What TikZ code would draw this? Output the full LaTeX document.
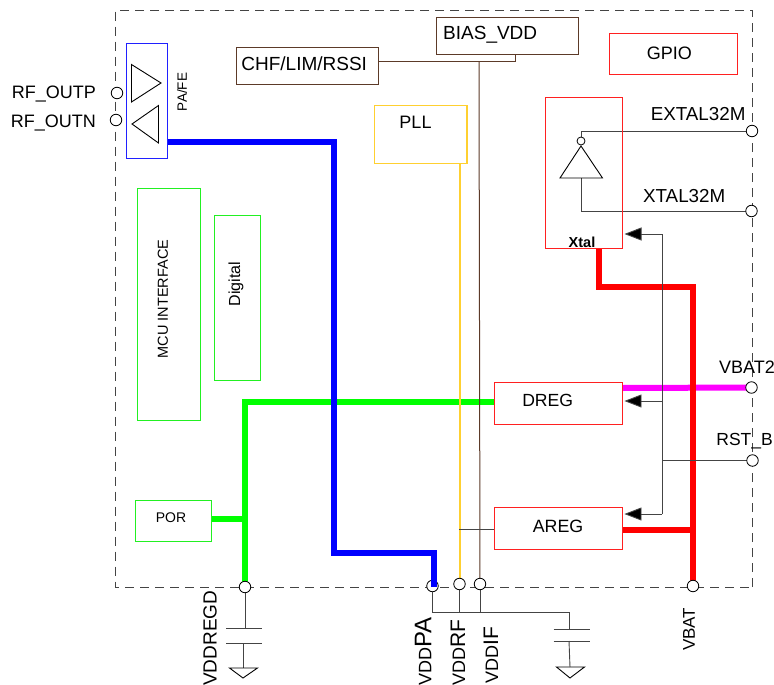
\documentclass[tikz,border=0pt]{standalone}
\usepackage{fontspec}
\setmainfont{Liberation Sans}
\usetikzlibrary{arrows.meta,calc}
\pgfdeclarelayer{wires}
\pgfsetlayers{wires,main}
\definecolor{cbrown}{HTML}{5C3A28}
\definecolor{cyellow}{HTML}{FFD030}
\definecolor{cgreen}{HTML}{22F022}
\definecolor{cred}{HTML}{FF2020}
\definecolor{cblue}{HTML}{2020FF}
\definecolor{cgrey}{HTML}{444444}
\definecolor{fgreen}{HTML}{00FF00}
\definecolor{fblue}{HTML}{0000FF}
\definecolor{fred}{HTML}{FF0000}
\definecolor{fmag}{HTML}{FF00FF}
\newcommand{\fs}[1]{\fontsize{#1}{#1}\selectfont}
\tikzset{
  x=1pt,y=-1pt,
  block/.style={draw,line width=1pt,inner sep=0pt,outer sep=0pt,font=\fs{18}},
  redbox/.style={block,draw=cred},
  greenbox/.style={block,draw=cgreen},
  brownbox/.style={block,draw=cbrown},
  yellowbox/.style={block,draw=cyellow,line width=1.5pt},
  bluebox/.style={block,draw=cblue},
  pin/.style={circle,draw=black,fill=white,line width=.8pt,minimum size=11.5pt,inner sep=0pt,outer sep=0pt},
  txt/.style={inner sep=0pt,font=\fs{18}},
  vtxt/.style={inner sep=0pt,font=\fs{18},rotate=90},
  thick wire/.style={line width=6pt},
  thin wire/.style={line width=.9pt,draw=cgrey},
  arrowwire/.style={thin wire,-{Triangle[length=17pt,width=13pt,fill=black]},shorten >=2pt},
  comp/.style={line width=.9pt,draw=black,line join=miter},
  chipedge/.style={line width=.9pt,draw=cgrey,dash pattern=on 9pt off 6pt},
}
\begin{document}
\begin{tikzpicture}
\useasboundingbox (0,0) rectangle (774,685);
% chip outline
\begin{pgfonlayer}{wires}
\draw[chipedge] (752,587) -- (752,10) -- (115.7,10) -- (115.7,587) -- cycle;
\end{pgfonlayer}
% blocks
\node[bluebox,minimum width=41.5pt,minimum height=114pt] (pafe) at (147.2,101) {};
\node[brownbox,minimum width=142pt,minimum height=37.5pt] (chf) at (307.5,66.2) {};
\node[brownbox,minimum width=141.5pt,minimum height=37pt] (bias) at (507.7,36.5) {};
\node[redbox,minimum width=127.5pt,minimum height=41.5pt] (gpio) at (673.7,54.2) {};
\node[yellowbox,minimum width=92.5pt,minimum height=58pt] (pll) at (420.7,134.5) {};
\node[redbox,minimum width=77pt,minimum height=151.5pt] (xtal) at (584,173.2) {};
\node[greenbox,minimum width=63.5pt,minimum height=232.5pt] (mcu) at (169.2,304.7) {};
\node[greenbox,minimum width=46.5pt,minimum height=165.5pt] (digital) at (237.7,298.2) {};
\node[greenbox,minimum width=76pt,minimum height=41pt] (por) at (173,521) {};
\node[redbox,minimum width=127.5pt,minimum height=42pt] (dreg) at (558.7,403) {};
\node[redbox,minimum width=127.5pt,minimum height=42pt] (areg) at (558.7,528) {};
% texts inside or beside blocks
\node[txt,font=\fs{19}] (chftxt) at (304.2,63.5) {CHF/LIM/RSSI};
\node[txt,anchor=west,font=\fs{19}] (biastxt) at (443,34.5) {BIAS\_VDD};
\node[txt] (gpiotxt) at (669.3,53) {GPIO};
\node[txt] (plltxt) at (415.5,122.5) {PLL};
\node[txt,font=\fs{14}] (portxt) at (171,518) {POR};
\node[txt,font=\fs{17.6}] (dregtxt) at (547.7,400.5) {DREG};
\node[txt,font=\fs{17.8}] (aregtxt) at (558,526.5) {AREG};
\node[vtxt,font=\fs{13.5}] (pafetxt) at (182,92) {PA/FE};
\node[vtxt,font=\fs{14.5}] (mcutxt) at (163,299) {MCU INTERFACE};
\node[vtxt,font=\fs{16}] (digtxt) at (236,284) {Digital};
\node[txt,font=\bfseries\fs{14.5}] (xtaltxt) at (582,242) {Xtal};
% pins
\node[pin] (poutp) at (117,93) {};
\node[pin] (poutn) at (116,120) {};
\node[pin] (pextal) at (752,131) {};
\node[pin] (pxtal) at (751.5,211) {};
\node[pin] (pvbat2) at (751.5,387.5) {};
\node[pin] (prst) at (752.5,460.5) {};
\node[pin] (pregd) at (245,587) {};
\node[pin] (prf) at (459.5,584) {};
\node[pin] (pif) at (480,584) {};
\node[pin] (pbat) at (693,586) {};
% pin labels
\node[txt,anchor=east] (loutp) at (96,94) {RF\_OUTP};
\node[txt,anchor=east] (loutn) at (96,123.5) {RF\_OUTN};
\node[txt,anchor=east,font=\fs{18.8}] (lextal) at (745.7,114.5) {EXTAL32M};
\node[txt,anchor=east,font=\fs{18.8}] (lxtal) at (725.5,196.5) {XTAL32M};
\node[txt,anchor=east] (lvbat2) at (775,367) {VBAT2};
\node[txt,anchor=east,font=\fs{17.5}] (lrst) at (773,441.5) {RST\_B};
\node[vtxt,anchor=west,font=\fs{19}] (lregd) at (210,686) {VDDREGD};
\node[vtxt,anchor=west] (lpa) at (423,686) {VDD\fs{24}PA};
\node[vtxt,anchor=west] (lrf) at (458,686) {VDD\fs{21}RF};
\node[vtxt,anchor=west] (lif) at (491,684) {VDD\fs{21}IF};
\node[vtxt,anchor=west,font=\fs{17}] (lbat) at (689,651) {VBAT};
% amplifier and inverter symbols
\draw[comp] (131.5,64.5) -- (161,83) -- (131.5,102) -- cycle;
\draw[comp] (158.5,105.5) -- (132,124) -- (158.5,143) -- cycle;
\draw[comp] (560,178) -- (602.5,178) -- (581,146) -- cycle;
\node[circle,draw=black,fill=white,line width=.8pt,minimum size=8pt,inner sep=0pt] (bubble) at (581,141) {};
\coordinate (invin) at (581,178);
% capacitors
\coordinate (capa1) at (245,628);
\coordinate (capa2) at (245,643);
\coordinate (gnda) at (243,668);
\coordinate (busl) at (433,612);
\coordinate (busr) at (569,612);
\coordinate (capb1) at (569,629);
\coordinate (capb2) at (569,641);
\coordinate (gndb) at (570,667);
\draw[comp,draw=cgrey] (226,628) -- (262,628);
\draw[comp,draw=cgrey] (226,643) -- (262,643);
\draw[comp,draw=cgrey] (553.5,629) -- (590,629);
\draw[comp,draw=cgrey] (553.5,641) -- (590,641);
\draw[comp] (229.5,668) -- (257.5,668) -- (243,678) -- cycle;
\draw[comp] (556.5,667) -- (584.5,667) -- (570,678) -- cycle;
% wires
\coordinate (b1) at (333.5,142);
\coordinate (b2) at (333.5,552.5);
\coordinate (b3) at (433.5,552.5);
\coordinate (g1) at (245,402);
\coordinate (r1) at (599,286.5);
\coordinate (r2) at (693,286.5);
\coordinate (c1) at (662,234);
\coordinate (c2) at (662,514);
\coordinate (d1) at (662,401);
\coordinate (rstj) at (662,460.5);
\coordinate (brj) at (479,62);
\coordinate (brk) at (515,62);
\coordinate (arj) at (459,529.5);
\begin{pgfonlayer}{wires}
\draw[thick wire,draw=fgreen] (dreg.west |- g1) -- (g1) -- (pregd.center);
\draw[thick wire,draw=fgreen] (por.east |- 0,519) -- (245,519);
\node[pin] (ppa) at (432.5,586) {};
\draw[thick wire,draw=fblue,line join=miter] (pafe.east |- b1) -- (b1) -- (b2) -- (b3) -- (433.5,587);
\draw[thick wire,draw=fmag] (dreg.east |- 0,388) -- (pvbat2.center);
\draw[thick wire,draw=fred] (xtal.south -| r1) -- (r1) -- (r2) -- (pbat.center);
\draw[thick wire,draw=fred] (areg.east |- 0,530) -- (693,530);
\draw[line width=2pt,draw=cyellow] (pll.south -| prf) -- (prf.center);
\draw[line width=1pt,draw=cbrown] (chf.east |- brj) -- (brk) -- (bias.south -| brk);
\draw[line width=1pt,draw=cbrown] (brj) -- (pif.center);
\draw[thin wire] (areg.west |- arj) -- (arj);
\draw[thin wire] (ppa.south) |- (busr) -- (capb1);
\draw[thin wire] (prf.center) -- (prf |- busl);
\draw[thin wire] (pif.center) -- (pif |- busl);
\draw[thin wire] (capb2) -- (gndb);
\draw[thin wire] (pregd.center) -- (capa1);
\draw[thin wire] (capa2 -| gnda) -- (gnda);
\draw[thin wire] (bubble.center) |- (pextal.center);
\draw[thin wire] (invin) |- (pxtal.center);
\draw[thin wire] (rstj) -- (prst.center);
\draw[thin wire] (c2) -- (c1);
\end{pgfonlayer}
\draw[arrowwire] (c1) -- (xtal.east |- c1);
\draw[arrowwire] (d1) -- (dreg.east |- d1);
\draw[arrowwire] (c2) -- (areg.east |- c2);
\end{tikzpicture}
\end{document}
